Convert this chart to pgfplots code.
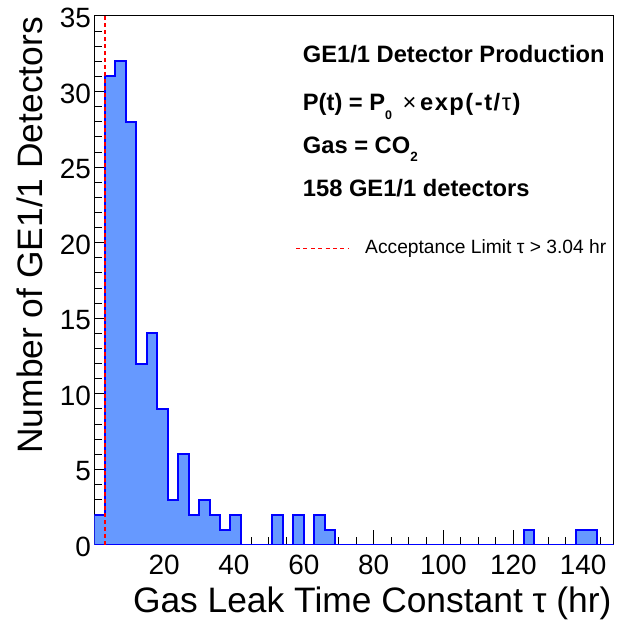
\documentclass[border=0pt]{standalone}
\usepackage{fontspec}
\setmainfont{Liberation Sans}
\usepackage{pgfplots}
\pgfplotsset{compat=1.18}
\definecolor{histfill}{RGB}{102,153,255}
\newcommand{\ls}{\hspace{1.5bp}}

\begin{document}
\begin{tikzpicture}[x=1bp,y=1bp]
\useasboundingbox (-94.3,-82) rectangle (523.7,545);
\begin{axis}[
  at={(0,0)}, anchor=south west,
  scale only axis, width=519.2bp, height=529bp,
  xmin=0, xmax=148.7, ymin=0, ymax=35,
  axis line style={line width=1bp},
  tick align=inside, xtick pos=bottom, ytick pos=left,
  xtick={0,20,...,140}, xticklabels={,20,40,60,80,100,120,140},
  minor xtick={0,5,...,145},
  ytick={0,5,...,35}, minor ytick={0,1,...,35},
  major tick length=15bp, minor tick length=7.5bp,
  every tick/.style={black, line width=1bp},
  /pgf/number format/assume math mode=true,
  ticklabel style={font=\fontsize{28}{28}\selectfont, inner sep=0pt},
  xticklabel style={yshift=-10bp},
  yticklabel style={xshift=-3.3bp, yshift=-2bp},
  xlabel={Gas Leak Time Constant τ (hr)},
  ylabel={Number of GE1/1 Detectors},
  label style={font=\fontsize{35.5}{36}\selectfont, inner sep=0pt},
  xlabel style={at={(axis description cs:0.99653,-0.12854)}, anchor=base east},
  ylabel style={at={(axis description cs:-0.1007,0.9981)}, anchor=base east},
]
% histogram, 3 hr bins
\addplot[const plot, draw=blue, line width=2bp, fill=histfill] coordinates {
  (0,2) (3,31) (6,32) (9,28) (12,12) (15,14) (18,9) (21,3) (24,6) (27,2)
  (30,3) (33,2) (36,1) (39,2) (42,0) (45,0) (48,0) (51,2) (54,0) (57,2)
  (60,0) (63,2) (66,1) (69,0) (72,0) (75,0) (78,0) (81,0) (84,0) (87,0)
  (90,0) (93,0) (96,0) (99,0) (102,0) (105,0) (108,0) (111,0) (114,0) (117,0)
  (120,0) (123,1) (126,0) (129,0) (132,0) (135,0) (138,1) (141,1) (144,0) (148.7,0)
} \closedcycle;
% acceptance limit
\addplot[red, line width=2bp, dash pattern=on 4bp off 3bp] coordinates {(3.04,0) (3.04,35)};
\end{axis}
\begin{scope}[every node/.style={anchor=base west, inner sep=0pt}]
\node[font=\fontsize{23.8}{24}\selectfont\bfseries] at (208.4,482.7) {GE1/1 Detector Production};
\node[font=\fontsize{23.8}{24}\selectfont\bfseries] at (208.4,434.3)
  {P(t) = P\raisebox{-8.5bp}{\fontsize{12.5}{13}\selectfont 0}\hspace{10.5bp}{\mdseries ×}\hspace{3.6bp}e\ls x\ls p\ls(\ls-\ls t\ls/\ls{\mdseries τ}\ls)};
\node[font=\fontsize{23.8}{24}\selectfont\bfseries] at (208.4,391)
  {Gas = CO\raisebox{-7.7bp}{\fontsize{13.5}{14}\selectfont 2}};
\node[font=\fontsize{23.8}{24}\selectfont\bfseries] at (208.4,348.3) {158 GE1/1 detectors};
\draw[red, line width=1.5bp, dash pattern=on 4bp off 3.4bp] (201.7,296.7) -- (253.7,296.7);
\node[font=\fontsize{19.3}{20}\selectfont] at (270.7,291.7) {Acceptance Limit τ > 3.04 hr};
\end{scope}
\end{tikzpicture}
\end{document}
